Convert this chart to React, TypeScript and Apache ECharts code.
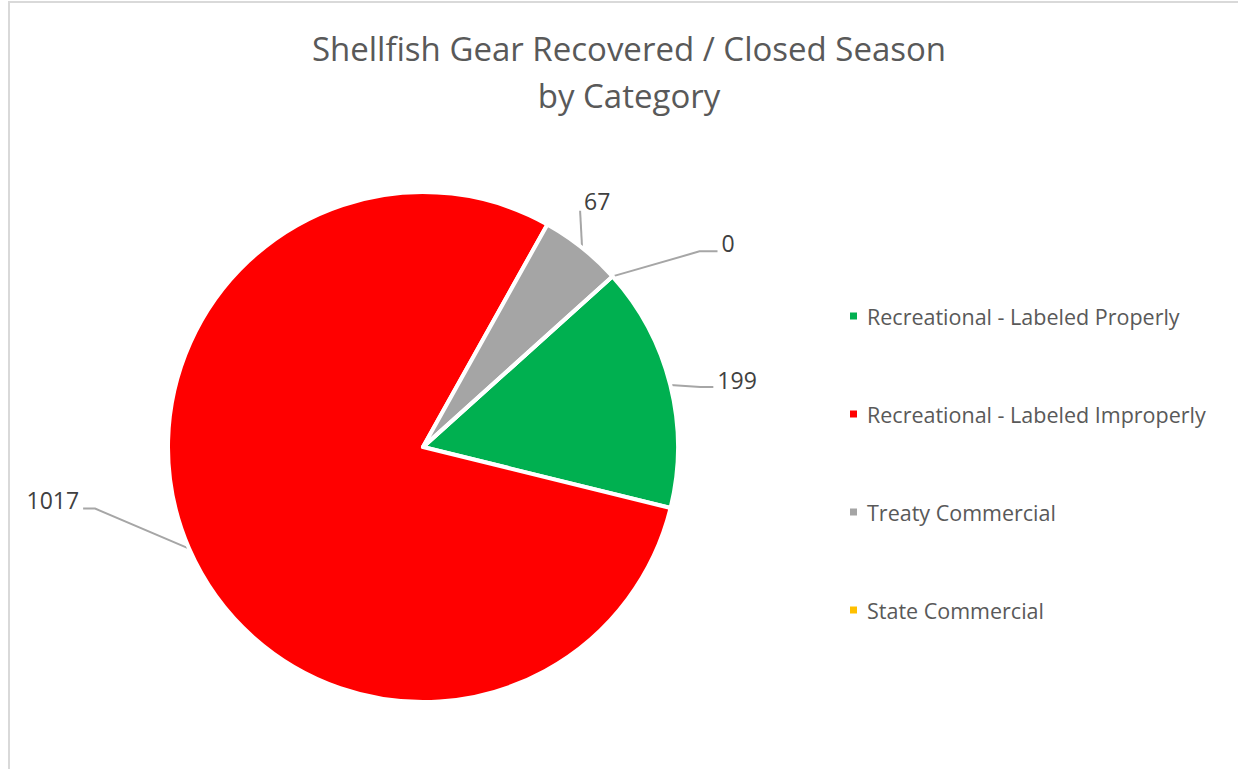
import React, { useEffect, useRef } from "react";
import * as echarts from "echarts";

const categories = [
  "Recreational - Labeled Properly",
  "Recreational - Labeled Improperly",
  "Treaty Commercial",
  "State Commercial",
];
const values = [199, 1017, 67, 0];
const colors = ["#00B050", "#FF0000", "#A5A5A5", "#FFC000"];
const titleText = "Shellfish Gear Recovered / Closed Season\nby Category";

// leader-line offsets (elbow, end) and label anchor, relative to the slice edge point
const leaderOffsets = [
  { elbow: [30, 2], end: [43, 2], label: [47, -5], align: "left" },
  { elbow: [-94, -40], end: [-106, -40], label: [-110, -49], align: "right" },
  { elbow: [-2, -37], end: [-2, -37], label: [2, -47], align: "left" },
  { elbow: [87, -25], end: [105, -25], label: [109, -33], align: "left" },
];

const FONT = "'Open Sans', sans-serif";

export default function App() {
  const ref = useRef<HTMLDivElement>(null);
  useEffect(() => {
    if (!ref.current) return;
    const chart = echarts.init(ref.current, null, { renderer: "svg" });
    chart.setOption({
      animation: false,
      backgroundColor: "#ffffff",
      title: {
        text: titleText,
        left: 624,
        top: 20,
        textAlign: "center",
        textStyle: {
          fontFamily: FONT,
          fontSize: 33,
          fontWeight: "normal",
          color: "#595959",
          lineHeight: 47,
        },
      },
      legend: {
        orient: "vertical",
        left: 843,
        top: 299,
        icon: "rect",
        itemWidth: 9,
        itemHeight: 9,
        itemGap: 74,
        data: categories,
        textStyle: {
          fontFamily: FONT,
          fontSize: 21.5,
          color: "#595959",
          lineHeight: 24,
          padding: [0, 0, 0, 4],
        },
      },
      graphic: [
        {
          type: "rect",
          shape: { x: 9, y: 2, width: 1240, height: 780 },
          style: { fill: "none", stroke: "#D9D9D9", lineWidth: 2 },
          silent: true,
        },
      ],
      series: [
        {
          type: "pie",
          center: [423, 447],
          radius: 255,
          startAngle: 42,
          clockwise: true,
          avoidLabelOverlap: false,
          data: categories.map((name, i) => ({
            name,
            value: values[i],
            itemStyle: { color: colors[i] },
          })),
          itemStyle: { borderColor: "#ffffff", borderWidth: 4 },
          label: {
            show: true,
            position: "outside",
            formatter: "{c}",
            fontFamily: FONT,
            fontSize: 23,
            color: "#404040",
          },
          labelLine: {
            show: true,
            length: 35,
            length2: 18,
            lineStyle: { color: "#A6A6A6", width: 2 },
          },
          labelLayout: (params: any) => {
            const pts = params.labelLinePoints;
            const o = leaderOffsets[params.dataIndex];
            if (!pts || !o) return {};
            const [x0, y0] = pts[0];
            return {
              x: x0 + o.label[0],
              y: y0 + o.label[1],
              align: o.align,
              verticalAlign: "middle",
              labelLinePoints: [
                [x0, y0],
                [x0 + o.elbow[0], y0 + o.elbow[1]],
                [x0 + o.end[0], y0 + o.end[1]],
              ],
            };
          },
          emphasis: { disabled: true },
        },
      ],
    });
    return () => chart.dispose();
  }, []);
  return (
    <div
      ref={ref}
      style={{ position: "absolute", left: 0, top: 0, width: 1238, height: 769 }}
    />
  );
}
